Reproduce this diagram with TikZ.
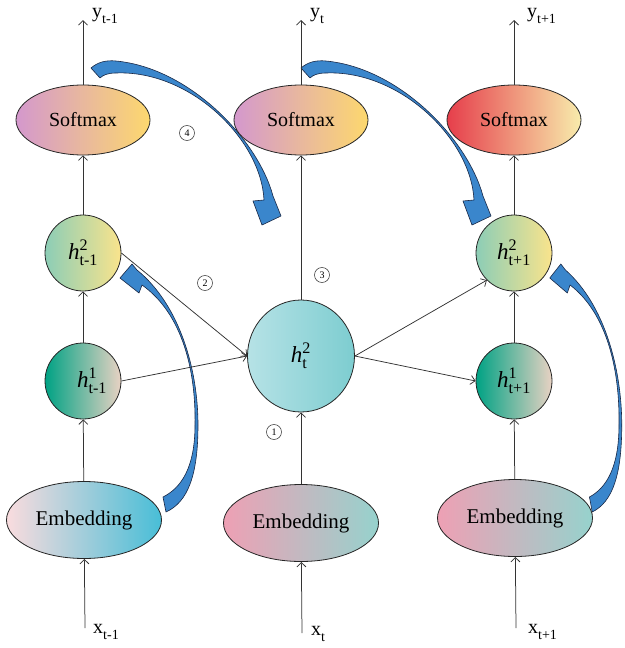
\documentclass[tikz,border=0pt]{standalone}
\usepackage{fontspec}
\usepackage{amsmath}
\setmainfont{Liberation Serif}
\usetikzlibrary{shapes.geometric,arrows.meta}
\definecolor{smAl}{RGB}{212,152,205}
\definecolor{smAm}{RGB}{240,186,180}
\definecolor{smAr}{RGB}{253,216,110}
\definecolor{smCl}{RGB}{230,62,75}
\definecolor{smCm}{RGB}{243,170,130}
\definecolor{smCr}{RGB}{248,236,172}
\definecolor{hTl}{RGB}{140,205,182}
\definecolor{hTr}{RGB}{250,228,140}
\definecolor{hOl}{RGB}{0,162,132}
\definecolor{hOm}{RGB}{160,196,176}
\definecolor{hOr}{RGB}{232,210,195}
\definecolor{hMl}{RGB}{182,226,230}
\definecolor{hMr}{RGB}{125,205,208}
\definecolor{eAl}{RGB}{250,220,222}
\definecolor{eAm}{RGB}{205,212,226}
\definecolor{eAr}{RGB}{72,190,215}
\definecolor{eBl}{RGB}{238,160,180}
\definecolor{eBm}{RGB}{198,198,210}
\definecolor{eBr}{RGB}{150,210,205}
\definecolor{bArr}{RGB}{58,134,204}
\definecolor{bLine}{RGB}{25,40,70}
\newcommand{\sbx}[1]{\raisebox{-0.32em}{\fontsize{14}{14}\selectfont #1}}
\newcommand{\hvar}[2]{\textit{h}$^{\text{#1}}_{\text{#2}}$}
\begin{document}
\begin{tikzpicture}[x=1pt,y=-1pt,
  arr/.style={draw=black!80, line width=0.75pt, -{Straight Barb[length=4.5pt,width=9pt,line width=0.75pt]}},
  ell/.style={ellipse, draw=black!85, line width=0.8pt, inner sep=0pt},
  smx/.style={ell, minimum width=134pt, minimum height=70pt, font=\fontsize{20}{24}\selectfont},
  embx/.style={ell, minimum width=155pt, minimum height=77pt, font=\fontsize{21}{24}\selectfont},
  hsm/.style={ell, minimum width=76pt, minimum height=76pt, font=\fontsize{23}{26}\selectfont},
  num/.style={circle, draw=black!80, line width=0.55pt, inner sep=0pt, minimum size=15pt, font=\fontsize{10}{10}\selectfont},
  lbl/.style={font=\fontsize{20}{22}\selectfont, inner sep=0pt, anchor=west},
  barrow/.style={fill=bArr, draw=bLine, line width=0.6pt, line join=round}
]
\useasboundingbox (0,0) rectangle (624,648);

% blue curved arrows
\filldraw[barrow] (91,68) .. controls (98,62) and (106,60) .. (116,61) .. controls (190,68) and (258,140) .. (273,196) -- (281,216) -- (262,225) -- (253,201) -- (264,200) .. controls (261,139) and (190,70) .. (116,73) .. controls (108,73) and (103,75) .. (100,78) -- cycle;
\begin{scope}[xshift=210pt]
\filldraw[barrow] (91,68) .. controls (98,62) and (106,60) .. (116,61) .. controls (190,68) and (258,140) .. (273,196) -- (281,216) -- (262,225) -- (253,201) -- (264,200) .. controls (261,139) and (190,70) .. (116,73) .. controls (108,73) and (103,75) .. (100,78) -- cycle;
\end{scope}
\filldraw[barrow] (163,497) .. controls (181,488) and (195,468) .. (195,425) .. controls (196,372) and (183,314) .. (142,285) -- (139,293) -- (120,278) -- (132,264) -- (137,270) .. controls (180,305) and (198,370) .. (198,425) .. controls (198,475) and (188,502) .. (166,512) -- cycle;
\begin{scope}[shift={(439,0)}, xscale=0.923]
\filldraw[barrow] (163,497) .. controls (181,488) and (195,468) .. (195,425) .. controls (196,372) and (183,314) .. (142,285) -- (139,293) -- (120,278) -- (132,264) -- (137,270) .. controls (180,305) and (198,370) .. (198,425) .. controls (198,475) and (188,502) .. (166,512) -- cycle;
\end{scope}

% nodes
\node[smx, left color=smAl, middle color=smAm, right color=smAr] (sm1) at (83,120) {Softmax};
\node[smx, left color=smAl, middle color=smAm, right color=smAr] (sm2) at (301,120) {Softmax};
\node[smx, left color=smCl, middle color=smCm, right color=smCr] (sm3) at (514,120) {Softmax};

\node[hsm, left color=hTl, right color=hTr] (h2a) at (83,253) {\hvar{2}{t-1}};
\node[hsm, left color=hOl, middle color=hOm, right color=hOr] (h1a) at (83,381) {\hspace{18pt}\hvar{1}{t-1}};
\node[ell, minimum width=107pt, minimum height=112pt, font=\fontsize{23}{26}\selectfont, left color=hMl, right color=hMr] (h2t) at (301,356) {\hvar{2}{t}};
\node[hsm, left color=hTl, right color=hTr] (h2c) at (514,253) {\hvar{2}{t+1}};
\node[hsm, left color=hOl, middle color=hOm, right color=hOr] (h1c) at (514,381) {\hvar{1}{t+1}};

\node[embx, left color=eAl, middle color=eAm, right color=eAr] (emb1) at (84,520) {Embedding};
\node[embx, left color=eBl, middle color=eBm, right color=eBr] (emb2) at (301,523) {Embedding};
\node[embx, left color=eBl, middle color=eBm, right color=eBr] (emb3) at (515,518) {Embedding};

% circled numbers
\node[num] (n4) at (187,133) {4};
\node[num] (n2) at (205,283) {2};
\node[num] (n3) at (322,275) {3};
\node[num] (n1) at (274,432) {1};

% labels
\coordinate (ya) at (83,20);
\coordinate (yb) at (301,20);
\coordinate (yc) at (514,20);
\coordinate (xa) at (85,628);
\coordinate (xb) at (302,633);
\coordinate (xc) at (516,628);
\node[lbl] (ylA) at (92,16) {y\sbx{t-1}};
\node[lbl] (ylB) at (310,16) {y\sbx{t}};
\node[lbl] (ylC) at (527,16) {y\sbx{t+1}};
\node[lbl] (xlA) at (93,632) {x\sbx{t-1}};
\node[lbl] (xlB) at (311,634) {x\sbx{t}};
\node[lbl] (xlC) at (528,632) {x\sbx{t+1}};

% connectors
\draw[arr] (sm1) -- (ya);
\draw[arr] (sm2) -- (yb);
\draw[arr] (sm3) -- (yc);
\draw[arr] (h2a) -- (sm1);
\draw[arr] (h1a) -- (h2a);
\draw[arr] (emb1) -- (h1a);
\draw[arr] (xa) -- (emb1);
\draw[arr] (h2a.east) -- (h2t.west);
\draw[arr] (h1a.east) -- (h2t.west);
\draw[arr] (h2t.east) -- (h2c.south west);
\draw[arr] (h2t.east) -- (h1c.west);
\draw[arr] (h2t) -- (sm2);
\draw[arr] (emb2) -- (h2t);
\draw[arr] (xb) -- (emb2);
\draw[arr] (h2c) -- (sm3);
\draw[arr] (h1c) -- (h2c);
\draw[arr] (emb3) -- (h1c);
\draw[arr] (xc) -- (emb3);
\end{tikzpicture}
\end{document}
